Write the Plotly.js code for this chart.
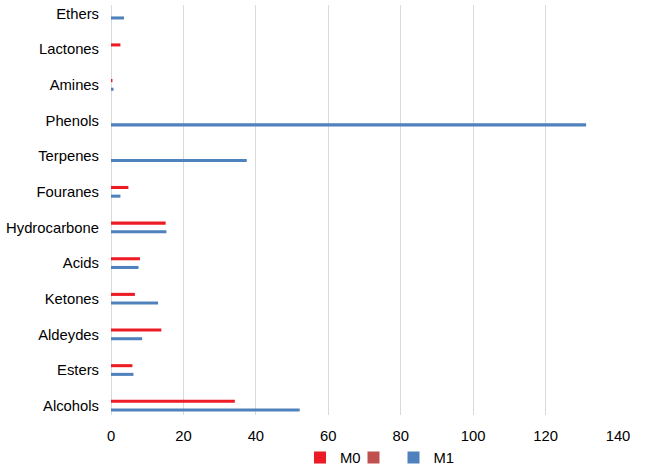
<!DOCTYPE html>
<html>
<head>
<meta charset="utf-8">
<script src="https://cdn.plot.ly/plotly-3.0.1.min.js"></script>
<style>html,body{margin:0;padding:0;background:#fff;}#chart{width:650px;height:471px;}</style>
</head>
<body>
<div id="chart"></div>
<script>
const categories = ["Alcohols","Esters","Aldeydes","Ketones","Acids","Hydrocarbone","Fouranes","Terpenes","Phenols","Amines","Lactones","Ethers"];
const m0Values = [34.2, 5.9, 13.9, 6.6, 8.0, 15.1, 4.8, null, null, 0.4, 2.6, null];
const midValues = [null, null, null, null, null, null, null, null, null, null, null, null];
const m1Values = [52.1, 6.2, 8.6, 13.0, 7.6, 15.3, 2.6, 37.5, 131.2, 0.7, null, 3.6];
const xTicks = [0, 20, 40, 60, 80, 100, 120, 140];

const traces = [
  {type:'bar', orientation:'h', name:'M1', y:categories, x:m1Values, marker:{color:'#4F81BD'}, legend:'legend3'},
  {type:'bar', orientation:'h', name:' ', y:categories, x:midValues, marker:{color:'#C0504D'}, legend:'legend2'},
  {type:'bar', orientation:'h', name:'M0', y:categories, x:m0Values, marker:{color:'#ED1C24'}, legend:'legend'}
];

function legendAt(px) {
  return {orientation:'h', xref:'container', x:(px - 19.5) / 650, xanchor:'left',
          yref:'container', y:0.0276, yanchor:'middle', font:{size:14.8}, bgcolor:'rgba(0,0,0,0)'};
}

const layout = {
  width:650, height:471,
  margin:{l:111, r:31.5, t:5, b:56, pad:0, autoexpand:false},
  paper_bgcolor:'#fff', plot_bgcolor:'#fff',
  font:{family:'"Liberation Sans", Arial, sans-serif', size:14.8, color:'#000'},
  barmode:'group', bargap:0.634, bargroupgap:0.3,
  showlegend:true,
  legend:legendAt(319.5),
  legend2:legendAt(373),
  legend3:legendAt(413),
  xaxis:{range:[0,140], tickvals:xTicks, showgrid:true, gridcolor:'#d9d9d9', gridwidth:1,
         zeroline:true, zerolinecolor:'#d9d9d9', zerolinewidth:1, showline:false, ticks:'', ticklabelstandoff:10, fixedrange:true},
  yaxis:{type:'category', categoryorder:'array', categoryarray:categories, range:[-0.262, 11.242],
         showgrid:false, zeroline:false, showline:false, ticks:'', ticklabelstandoff:11, fixedrange:true}
};

Plotly.newPlot('chart', traces, layout, {displayModeBar:false, staticPlot:true});
</script>
</body>
</html>
